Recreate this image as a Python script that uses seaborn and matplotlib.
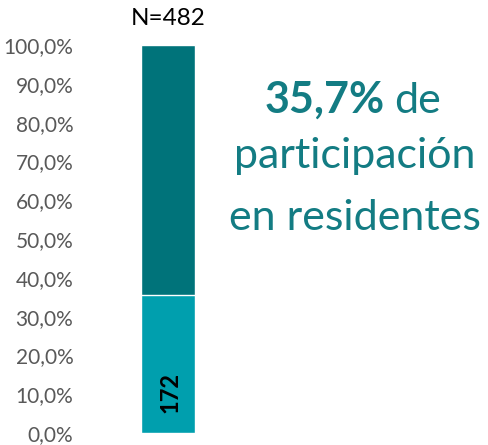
import matplotlib
matplotlib.use("Agg")
import matplotlib.pyplot as plt
import seaborn as sns
import pandas as pd
from matplotlib.ticker import FuncFormatter

# data
categories = ["Total"]
residentes = [172]
no_residentes = [310]
total = [r + n for r, n in zip(residentes, no_residentes)]

pct_res = [r / t for r, t in zip(residentes, total)]
df = pd.DataFrame({"cat": categories, "res": pct_res, "all": [1.0] * len(categories)})

sns.set_style("white")
plt.rcParams["font.family"] = ["Lato", "DejaVu Sans"]

fig = plt.figure(figsize=(4.89, 4.45), dpi=100)
ax = fig.add_axes([90 / 489, 12 / 445, 156 / 489, 388 / 445])

# stacked bar: full bar in dark teal, residents on top of it in light teal
sns.barplot(data=df, x="cat", y="all", color="#00737A", saturation=1, width=0.35, ax=ax)
sns.barplot(data=df, x="cat", y="res", color="#009FAE", saturation=1, width=0.35, ax=ax)

ax.set_ylim(0, 1)
ax.set_xlim(-0.5, 0.5)
ax.set_yticks([i / 10 for i in range(11)])
ax.yaxis.set_major_formatter(FuncFormatter(lambda v, p: f"{v * 100:.1f}%".replace(".", ",")))
ax.tick_params(axis="y", length=0, labelsize=15, labelcolor="#595959", pad=12)
ax.set_xticks([])
ax.set_xlabel("")
ax.set_ylabel("")
sns.despine(ax=ax, left=True, bottom=True)

# labels
for i, (r, t) in enumerate(zip(residentes, total)):
    ax.text(i, 1.04, f"N={t}", ha="center", va="bottom", fontsize=17.5, color="black")
    ax.text(i + 0.01, pct_res[i] * 0.29, str(r), ha="center", va="center", rotation=90,
            fontsize=17, fontweight="bold", color="black")

teal = "#137C83"
fs = 31
fig.text(265 / 489, 1 - 113 / 445, f"{pct_res[0] * 100:.1f}%".replace(".", ","), ha="left", va="baseline",
         fontsize=fs, fontweight="bold", color=teal)
fig.text(394 / 489, 1 - 113 / 445, "de", ha="left", va="baseline", fontsize=fs, color=teal)
fig.text(355 / 489, 1 - 168 / 445, "participación", ha="center", va="baseline", fontsize=fs, color=teal)
fig.text(355 / 489, 1 - 230 / 445, "en residentes", ha="center", va="baseline", fontsize=fs, color=teal)

fig.savefig("out.png", dpi=100)
